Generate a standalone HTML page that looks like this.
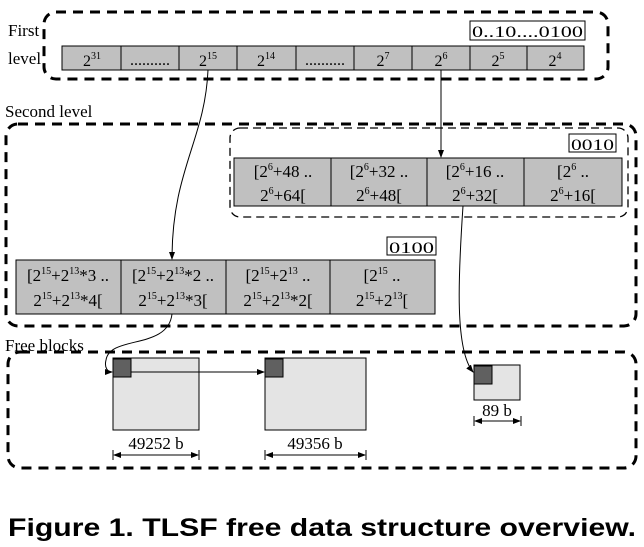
<!DOCTYPE html>
<html><head><style>body{margin:0;background:#fff}svg{display:block}</style></head><body>
<svg width="644" height="547" viewBox="0 0 644 547" xmlns="http://www.w3.org/2000/svg" font-family="'Liberation Serif', serif">
<defs><marker id="a" markerWidth="8" markerHeight="8" refX="7" refY="4" orient="auto" markerUnits="userSpaceOnUse"><path d="M0,1 L8,4 L0,7 z" fill="#000"/></marker>
<marker id="b" markerWidth="8" markerHeight="8" refX="1" refY="4" orient="auto" markerUnits="userSpaceOnUse"><path d="M8,1 L0,4 L8,7 z" fill="#000"/></marker></defs>
<g fill="none" stroke="#000" stroke-width="3" stroke-dasharray="10,7">
<rect x="44" y="12" width="564" height="67" rx="12"/>
<rect x="6" y="124" width="630" height="202" rx="12"/>
<rect x="8" y="352" width="628" height="116" rx="12"/>
</g>
<rect x="230" y="128" width="398" height="89" rx="10" fill="none" stroke="#000" stroke-width="1.3" stroke-dasharray="8,5"/>
<g font-size="17"><text x="8" y="36">First</text><text x="8" y="64">level</text><text x="5" y="117">Second level</text><text x="5" y="351">Free blocks</text></g>
<rect x="470" y="21" width="115" height="19" fill="#fff" stroke="#000"/>
<text x="472" y="37" font-size="16" textLength="111" lengthAdjust="spacingAndGlyphs">0..10....0100</text>
<rect x="62" y="46" width="522" height="24" fill="#c0c0c0" stroke="#000"/>
<g stroke="#000"><line x1="121" y1="46" x2="121" y2="70"/><line x1="179" y1="46" x2="179" y2="70"/><line x1="237" y1="46" x2="237" y2="70"/><line x1="296" y1="46" x2="296" y2="70"/><line x1="354" y1="46" x2="354" y2="70"/><line x1="412" y1="46" x2="412" y2="70"/><line x1="470" y1="46" x2="470" y2="70"/><line x1="527" y1="46" x2="527" y2="70"/></g>
<g font-size="16" text-anchor="middle">
<text x="92" y="66">2<tspan font-size="10" dy="-7">31</tspan></text>
<text x="150" y="65">..........</text>
<text x="208" y="66">2<tspan font-size="10" dy="-7">15</tspan></text>
<text x="266" y="66">2<tspan font-size="10" dy="-7">14</tspan></text>
<text x="325" y="65">..........</text>
<text x="383" y="66">2<tspan font-size="10" dy="-7">7</tspan></text>
<text x="441" y="66">2<tspan font-size="10" dy="-7">6</tspan></text>
<text x="498" y="66">2<tspan font-size="10" dy="-7">5</tspan></text>
<text x="555" y="66">2<tspan font-size="10" dy="-7">4</tspan></text>
</g>
<rect x="569" y="134" width="47" height="18" fill="#fff" stroke="#000"/>
<text x="571" y="150" font-size="16" textLength="43" lengthAdjust="spacingAndGlyphs">0010</text>
<rect x="234" y="158" width="388" height="48" fill="#c0c0c0" stroke="#000"/>
<g stroke="#000"><line x1="331" y1="158" x2="331" y2="206"/><line x1="427" y1="158" x2="427" y2="206"/><line x1="524" y1="158" x2="524" y2="206"/></g>
<g font-size="17" text-anchor="middle">
<text x="283" y="177">[2<tspan font-size="10" dy="-7">6</tspan><tspan dy="7">+48 ..</tspan></text>
<text x="283" y="201">2<tspan font-size="10" dy="-7">6</tspan><tspan dy="7">+64[</tspan></text>
<text x="379" y="177">[2<tspan font-size="10" dy="-7">6</tspan><tspan dy="7">+32 ..</tspan></text>
<text x="379" y="201">2<tspan font-size="10" dy="-7">6</tspan><tspan dy="7">+48[</tspan></text>
<text x="475" y="177">[2<tspan font-size="10" dy="-7">6</tspan><tspan dy="7">+16 ..</tspan></text>
<text x="475" y="201">2<tspan font-size="10" dy="-7">6</tspan><tspan dy="7">+32[</tspan></text>
<text x="573" y="177">[2<tspan font-size="10" dy="-7">6</tspan><tspan dy="7"> ..</tspan></text>
<text x="573" y="201">2<tspan font-size="10" dy="-7">6</tspan><tspan dy="7">+16[</tspan></text>
</g>
<rect x="387" y="237" width="49" height="18" fill="#fff" stroke="#000"/>
<text x="389" y="253" font-size="16" textLength="45" lengthAdjust="spacingAndGlyphs">0100</text>
<rect x="16" y="260" width="419" height="54" fill="#c0c0c0" stroke="#000"/>
<g stroke="#000"><line x1="121" y1="260" x2="121" y2="314"/><line x1="226" y1="260" x2="226" y2="314"/><line x1="330" y1="260" x2="330" y2="314"/></g>
<g font-size="17" text-anchor="middle">
<text x="68" y="281">[2<tspan font-size="10" dy="-7">15</tspan><tspan dy="7">+2</tspan><tspan font-size="10" dy="-7">13</tspan><tspan dy="7">*3 ..</tspan></text>
<text x="68" y="306">2<tspan font-size="10" dy="-7">15</tspan><tspan dy="7">+2</tspan><tspan font-size="10" dy="-7">13</tspan><tspan dy="7">*4[</tspan></text>
<text x="173" y="281">[2<tspan font-size="10" dy="-7">15</tspan><tspan dy="7">+2</tspan><tspan font-size="10" dy="-7">13</tspan><tspan dy="7">*2 ..</tspan></text>
<text x="173" y="306">2<tspan font-size="10" dy="-7">15</tspan><tspan dy="7">+2</tspan><tspan font-size="10" dy="-7">13</tspan><tspan dy="7">*3[</tspan></text>
<text x="278" y="281">[2<tspan font-size="10" dy="-7">15</tspan><tspan dy="7">+2</tspan><tspan font-size="10" dy="-7">13</tspan><tspan dy="7"> ..</tspan></text>
<text x="278" y="306">2<tspan font-size="10" dy="-7">15</tspan><tspan dy="7">+2</tspan><tspan font-size="10" dy="-7">13</tspan><tspan dy="7">*2[</tspan></text>
<text x="382" y="281">[2<tspan font-size="10" dy="-7">15</tspan><tspan dy="7"> ..</tspan></text>
<text x="382" y="306">2<tspan font-size="10" dy="-7">15</tspan><tspan dy="7">+2</tspan><tspan font-size="10" dy="-7">13</tspan><tspan dy="7">[</tspan></text>
</g>
<g stroke="#000"><rect x="113" y="358" width="86" height="72" fill="#e4e4e4"/><rect x="113" y="359" width="18" height="18" fill="#606060"/>
<rect x="265" y="358" width="101" height="72" fill="#e4e4e4"/><rect x="265" y="359" width="18" height="18" fill="#606060"/>
<rect x="474" y="365" width="46" height="35" fill="#e4e4e4"/><rect x="474" y="366" width="18" height="18" fill="#606060"/></g>
<g font-size="17" text-anchor="middle"><text x="156" y="449">49252 b</text><text x="315" y="449">49356 b</text><text x="497" y="416">89 b</text></g>
<g stroke="#000" stroke-width="1" fill="none">
<line x1="114" y1="455" x2="198" y2="455" marker-start="url(#b)" marker-end="url(#a)"/><line x1="113" y1="450" x2="113" y2="460"/><line x1="199" y1="450" x2="199" y2="460"/>
<line x1="266" y1="455" x2="365" y2="455" marker-start="url(#b)" marker-end="url(#a)"/><line x1="265" y1="450" x2="265" y2="460"/><line x1="366" y1="450" x2="366" y2="460"/>
<line x1="475" y1="421" x2="520" y2="421" marker-start="url(#b)" marker-end="url(#a)"/><line x1="474" y1="416" x2="474" y2="426"/><line x1="521" y1="416" x2="521" y2="426"/>
<path d="M208,70 C205,140 172,170 172,259" marker-end="url(#a)"/>
<line x1="441" y1="70" x2="441" y2="157" marker-end="url(#a)"/>
<path d="M463,206 C458,280 455,350 473,372" marker-end="url(#a)"/>
<path d="M172,314 C168,350 110,335 106,360 C104,368 108,372 112,372" marker-end="url(#a)"/>
<line x1="131" y1="372" x2="264" y2="372" marker-end="url(#a)"/>
</g>
<text x="8" y="536" font-family="'Liberation Sans', sans-serif" font-weight="bold" font-size="25" textLength="628" lengthAdjust="spacingAndGlyphs">Figure 1. TLSF free data structure overview.</text>
</svg>
</body></html>
